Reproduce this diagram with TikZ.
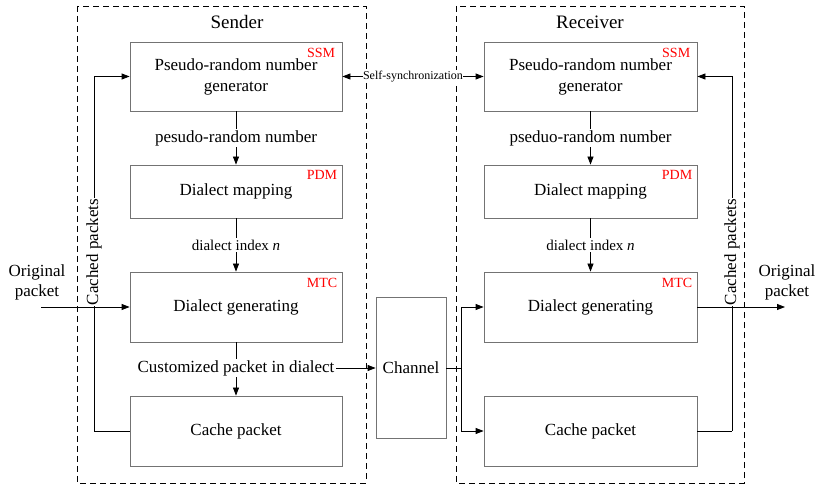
\documentclass[tikz,border=0pt]{standalone}
\usepackage{fontspec}
\setmainfont{Liberation Serif}
\usetikzlibrary{arrows.meta}
\begin{document}
\begin{tikzpicture}[x=1pt,y=-1pt,
  blk/.style={draw=black!55,line width=0.8pt,minimum width=212pt,inner sep=0pt,align=center,font=\fontsize{17}{21}\selectfont},
  tag/.style={text=red,font=\fontsize{14}{16}\selectfont,anchor=north east,inner sep=0pt},
  lbl/.style={fill=white,inner sep=1.5pt,font=\fontsize{17}{20}\selectfont},
  slbl/.style={fill=white,inner sep=1.5pt,font=\fontsize{15}{18}\selectfont},
  grp/.style={draw=black,line width=0.8pt,dash pattern=on 6pt off 4pt},
  arr/.style={-{Triangle[length=8pt,width=6pt]},line width=0.8pt},
  ln/.style={line width=0.8pt}]
\useasboundingbox (0,0) rectangle (815,489);
% group frames
\draw[grp] (77,6) rectangle (366,483);
\draw[grp] (456,6) rectangle (744,483);
\node[font=\fontsize{19}{22}\selectfont] (sT) at (237,22) {Sender};
\node[font=\fontsize{19}{22}\selectfont] (rT) at (590,22) {Receiver};
% sender blocks
\node[blk,minimum height=69pt] (sssm) at (236,76.5) {Pseudo-random number\\generator};
\node[blk,minimum height=53pt] (spdm) at (236,191.5) {Dialect mapping};
\node[blk,minimum height=70pt] (smtc) at (236,307) {Dialect generating};
\node[blk,minimum height=70pt] (scache) at (236,431) {Cache packet};
% receiver blocks
\node[blk,minimum width=213pt,minimum height=69pt] (rssm) at (590.5,76.5) {Pseudo-random number\\generator};
\node[blk,minimum width=213pt,minimum height=53pt] (rpdm) at (590.5,191.5) {Dialect mapping};
\node[blk,minimum width=213pt,minimum height=70pt] (rmtc) at (590.5,307) {Dialect generating};
\node[blk,minimum width=213pt,minimum height=70pt] (rcache) at (590.5,431) {Cache packet};
% channel
\node[blk,minimum width=70pt,minimum height=141pt] (chan) at (411,368) {Channel};
% red tags
\node[tag] (t1) at ([xshift=-7pt,yshift=-6pt]sssm.north east) {SSM};
\node[tag] (t2) at ([xshift=-5pt,yshift=-6pt]spdm.north east) {PDM};
\node[tag] (t3) at ([xshift=-5pt,yshift=-6pt]smtc.north east) {MTC};
\node[tag] (t4) at ([xshift=-7pt,yshift=-6pt]rssm.north east) {SSM};
\node[tag] (t5) at ([xshift=-5pt,yshift=-6pt]rpdm.north east) {PDM};
\node[tag] (t6) at ([xshift=-5pt,yshift=-6pt]rmtc.north east) {MTC};
% sender vertical flow
\draw[arr] (sssm.south) -- (spdm.north);
\node[lbl] (l1) at (236,138) {pesudo-random number};
\draw[arr] (spdm.south) -- (smtc.north);
\node[slbl] (l2) at (236,245) {dialect index \textit{n}};
\draw[arr] (smtc.south) -- (scache.north);
\node[lbl] (l3) at (236,368) {Customized packet in dialect};
\draw[arr] (l3.east) -- (l3.east -| chan.west);
% receiver vertical flow
\draw[arr] (rssm.south) -- (rpdm.north);
\node[lbl] (l4) at (590.5,138) {pseduo-random number};
\draw[arr] (rpdm.south) -- (rmtc.north);
\node[slbl] (l5) at (590.5,245) {dialect index \textit{n}};
% self-synchronization
\draw[{Triangle[length=8pt,width=6pt]}-{Triangle[length=8pt,width=6pt]},line width=0.8pt] (sssm.east) -- (rssm.west);
\node[fill=white,inner sep=0.5pt,font=\fontsize{12}{14}\selectfont] (ss) at (413,76.5) {Self-synchronization};
% sender input and cache loop
\coordinate (inS) at (41,307);
\node[align=center,font=\fontsize{17}{20}\selectfont] (oS) at (37,282) {Original\\packet};
\draw[arr] (inS) -- (smtc.west);
\coordinate (cS) at (94,431);
\draw[ln] (scache.west) -- (cS);
\draw[arr] (cS) |- (sssm.west);
\node[fill=white,inner sep=1pt,rotate=90,font=\fontsize{17}{20}\selectfont] (cpS) at (94,252) {Cached packets};
% receiver input
\coordinate (rj) at (461,368);
\draw[ln] (chan.east) -- (rj);
\draw[arr] (rj) |- (rmtc.west);
\draw[arr] (rj) |- (rcache.west);
% receiver output and cache loop
\coordinate (outR) at (785,307);
\draw[arr] (rmtc.east) -- (outR);
\node[align=center,font=\fontsize{17}{20}\selectfont] (oR) at (787,282) {Original\\packet};
\coordinate (cR) at (732,431);
\draw[ln] (rcache.east) -- (cR);
\draw[arr] (cR) |- (rssm.east);
\node[fill=white,inner sep=1pt,rotate=90,font=\fontsize{17}{20}\selectfont] (cpR) at (732,252) {Cached packets};
\end{tikzpicture}
\end{document}
